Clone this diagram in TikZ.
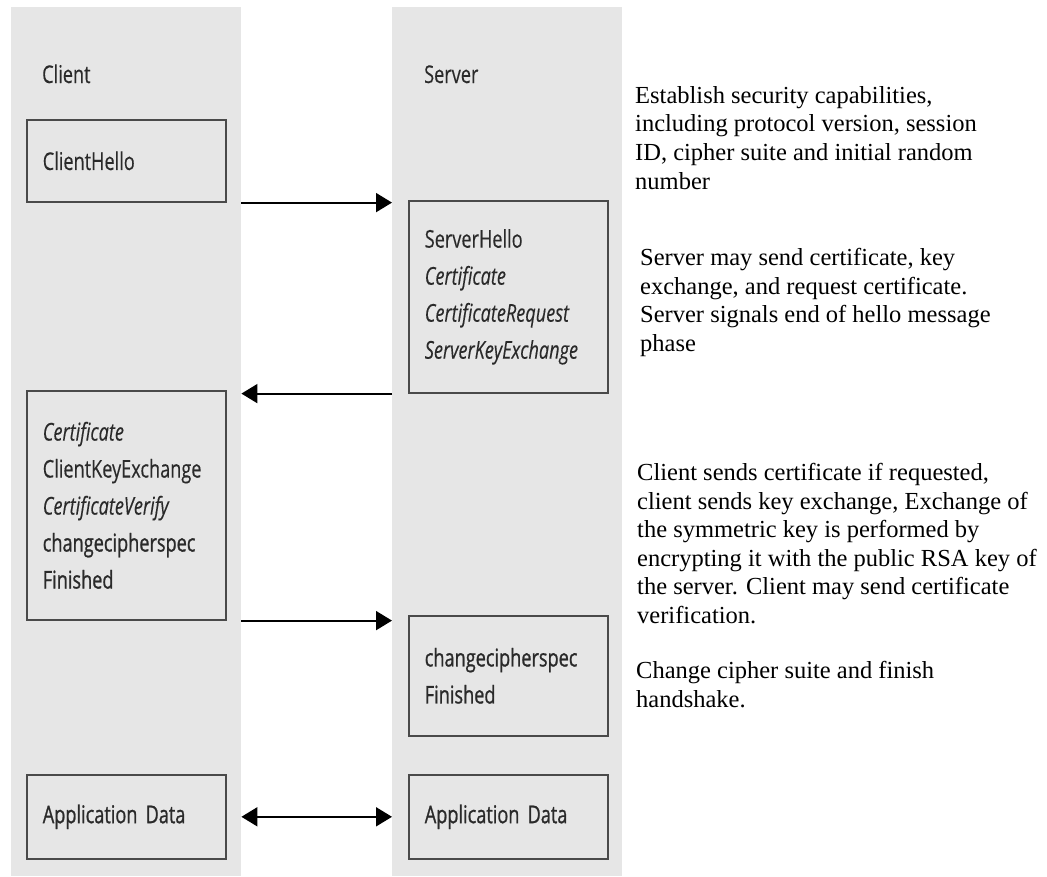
\documentclass[tikz,border=0pt]{standalone}
\usepackage{fontspec}
\usepackage{xcolor}
\setmainfont{Liberation Serif}
\newfontfamily\msgfont[FakeStretch=0.74,FakeBold=0.25]{Open Sans}
\newfontfamily\msgfontbold[FakeStretch=0.74,FakeBold=0.9]{Open Sans}
\usetikzlibrary{arrows.meta}

\definecolor{lanegray}{HTML}{E6E6E6}
\definecolor{boxline}{HTML}{4A4A4A}
\definecolor{msgtext}{HTML}{2A2A2A}

\tikzset{
    lane/.style={fill=lanegray, draw=none, inner sep=0pt, anchor=north west,
        minimum width=230pt, minimum height=869pt},
    msgbox/.style={draw=boxline, fill=lanegray, line width=1.6pt, anchor=north west,
        minimum width=199pt, text width=167pt, inner xsep=16pt, inner ysep=0pt,
        align=left, text=msgtext, font=\msgfont\fontsize{24.5}{37}\selectfont},
    lanetitle/.style={anchor=base west, inner sep=0pt, text=msgtext,
        font=\msgfont\fontsize{24.5}{37}\selectfont},
    note/.style={anchor=north west, inner sep=0pt, align=left,
        font=\fontsize{24.5}{28.6}\selectfont},
    msgarrow/.style={line width=1.8pt, -{Triangle[length=16pt,width=19pt]}},
}
\newcommand{\heavymsg}[1]{{\msgfontbold #1}}

\begin{document}
\begin{tikzpicture}[x=1pt, y=-1pt]
    \useasboundingbox (0,0) rectangle (1047,876);

    % Lanes
    \node[lane] (clientlane) at (11,7) {};
    \node[lane] (serverlane) at (392,7) {};
    \node[lanetitle] (clientlbl) at (42,83) {Client};
    \node[lanetitle] (serverlbl) at (424,83) {Server};

    % Client side
    \node[msgbox, minimum height=82pt] (chello) at (26,119) {ClientHello};
    \node[msgbox, minimum height=229pt] (ckx) at (26,390)
        {{\itshape Certificate}\\ClientKeyExchange\\{\itshape CertificateVerify}\\
         \heavymsg{changecipherspec}\\\heavymsg{Finished}};
    \node[msgbox, minimum height=84pt] (capp) at (26,774) {\heavymsg{Application Data}};

    % Server side
    \node[msgbox, minimum height=192pt] (shello) at (408,200)
        {ServerHello\\{\itshape Certificate}\\{\itshape CertificateRequest}\\
         {\itshape ServerKeyExchange}};
    \node[msgbox, minimum height=120pt] (sfin) at (408,615)
        {\heavymsg{changecipherspec}\\\heavymsg{Finished}};
    \node[msgbox, minimum height=84pt] (sapp) at (408,774) {\heavymsg{Application Data}};

    % Messages
    \draw[msgarrow] (clientlane.east |- chello.south) -- (serverlane.west |- chello.south);
    \draw[msgarrow] (serverlane.west |- shello.south) -- (clientlane.east |- shello.south);
    \draw[msgarrow] (clientlane.east |- ckx.south) -- (serverlane.west |- ckx.south);
    \draw[msgarrow, {Triangle[length=16pt,width=19pt]}-{Triangle[length=16pt,width=19pt]}]
        (clientlane.east |- capp.east) -- (serverlane.west |- capp.east);

    % Notes
    \node[note] (note1) at (635,86)
        {Establish security capabilities,\\including protocol version, session\\
         ID, cipher suite and initial random\\number};
    \node[note] (note2) at (640,248)
        {Server may send certificate, key\\exchange, and request certificate.\\
         Server signals end of hello message\\phase};
    \node[note] (note3) at (637,463)
        {Client sends certificate if requested,\\client sends key exchange, Exchange of\\
         the symmetric key is performed by\\encrypting it with the public RSA key of\\
         the server. Client may send certificate\\verification.};
    \node[note] (note4) at (636,661)
        {Change cipher suite and finish\\handshake.};
\end{tikzpicture}
\end{document}
